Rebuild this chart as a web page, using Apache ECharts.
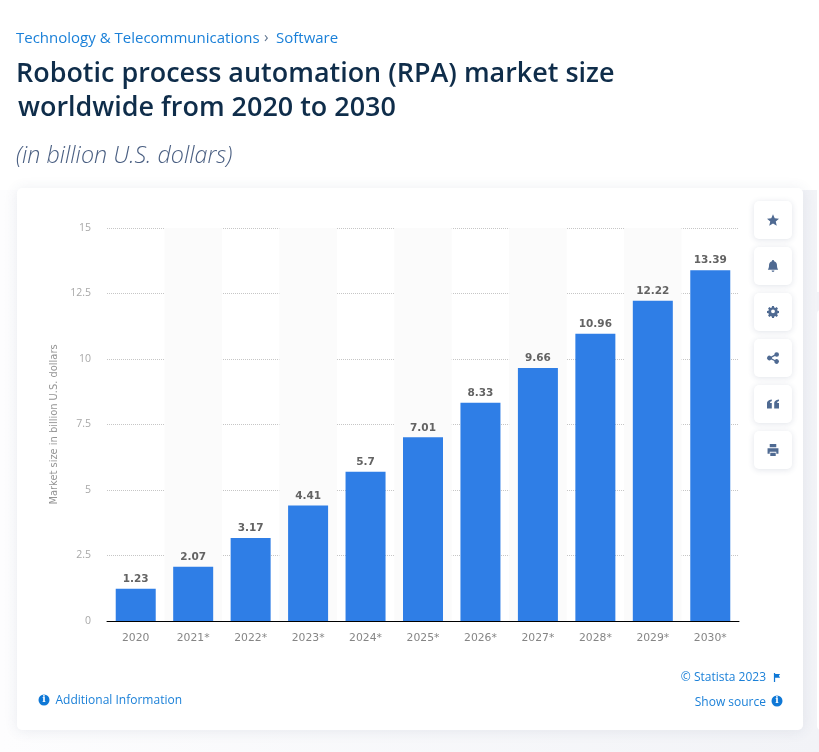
<!DOCTYPE html>
<html>
<head>
<meta charset="utf-8">
<title>RPA market size</title>
<style>
html, body { margin: 0; padding: 0; background: #fff; }
#chart { width: 819px; height: 752px; }
</style>
<script src="https://cdn.jsdelivr.net/npm/echarts@6/dist/echarts.min.js"></script>
</head>
<body>
<div id="chart"></div>
<script>
var categories = ['2020', '2021*', '2022*', '2023*', '2024*', '2025*', '2026*', '2027*', '2028*', '2029*', '2030*'];
var marketSize = [1.23, 2.07, 3.17, 4.41, 5.7, 7.01, 8.33, 9.66, 10.96, 12.22, 13.39];
var yMax = 15;
var yStep = 2.5;
var breadcrumb = 'Technology & Telecommunications';
var breadcrumbLeaf = 'Software';
var titleLines = ['Robotic process automation (RPA) market size', 'worldwide from 2020 to 2030'];
var subtitle = '(in billion U.S. dollars)';
var yAxisName = 'Market size in billion U.S. dollars';

var LINK = '#1b80d8';
var ICON = '#4f6a92';
var SANS = '"Open Sans", "Noto Sans", sans-serif';

// icons drawn on a 24x24 box
var icons = [
    'M12 2l3 7 7.5.6-5.7 4.9 1.8 7.5L12 18l-6.6 4 1.8-7.5L1.5 9.6 9 9z',
    'M12 1.5a2 2 0 0 1 2 2c4 1 5 4 5 8 0 3 1 5 2 7H3c1-2 2-4 2-7 0-4 1-7 5-8a2 2 0 0 1 2-2zM9.5 20h5a2.5 2.5 0 0 1-5 0z',
    'M10 1h4l.6 3 2.2.9 2.6-1.7 2.8 2.8-1.7 2.6.9 2.2 3 .6v4l-3 .6-.9 2.2 1.7 2.6-2.8 2.8-2.6-1.7-2.2.9-.6 3h-4l-.6-3-2.2-.9-2.6 1.7-2.8-2.8 1.7-2.6-.9-2.2-3-.6v-4l3-.6.9-2.2-1.7-2.6 2.8-2.8 2.6 1.7 2.2-.9zM12 8a4 4 0 0 0 0 8 4 4 0 0 0 0-8z',
    'M18 2a4 4 0 1 1-2.9 6.7L10 11.2v1.6l5.1 2.5A4 4 0 1 1 14 18v-.6l-5.6-2.8a4 4 0 1 1 0-5.2L14 6.6V6a4 4 0 0 1 4-4z',
    'M2 12c0-4 2-6 8-7v3c-2 0-3 1-3 3h3v9H2zM14 12c0-4 2-6 8-7v3c-2 0-3 1-3 3h3v9h-8z',
    'M6 1h12v6H6zM2 9h20v10h-4v-4H6v4H2zM7 17h10v6H7z'
];
var flagIcon = 'M2 1h2v1.5h8l-2 3 2 3H4v7H2z';

function text(x, y, str, size, color, extra) {
    var style = { x: x, y: y, text: str, font: size + 'px ' + SANS, fill: color, textVerticalAlign: 'middle' };
    for (var k in extra) { style[k] = extra[k]; }
    return { type: 'text', z: 10, silent: true, style: style };
}

function infoDot(cx, cy) {
    return [
        { type: 'circle', z: 10, silent: true, shape: { cx: cx, cy: cy, r: 5.5 }, style: { fill: '#0f78d6' } },
        text(cx, cy, 'i', 9, '#fff', { textAlign: 'center', font: 'bold 9px "DejaVu Serif", serif' })
    ];
}

var shapes = [
    { type: 'rect', z: -20, silent: true, shape: { x: 0, y: 190, width: 819, height: 562 },
      style: { fill: new echarts.graphic.LinearGradient(0, 0, 1, 0, [
          { offset: 0, color: '#fdfdfe' }, { offset: 1, color: '#f2f3f7' }
      ]) } },
    { type: 'rect', z: -19, silent: true, shape: { x: 817, y: 170, width: 10, height: 122 }, style: { fill: '#fff' } },
    { type: 'rect', z: -19, silent: true, shape: { x: 817, y: 310, width: 10, height: 420, r: 4 }, style: { fill: '#fff' } },
    { type: 'rect', z: -18, silent: true, shape: { x: 17, y: 188, width: 786, height: 542, r: 5 },
      style: { fill: '#fff', shadowBlur: 14, shadowColor: 'rgba(60,80,120,0.10)', shadowOffsetY: 1 } },
    text(16, 38.5, breadcrumb, 15, LINK),
    text(264, 38, '›', 15, '#5f7590'),
    text(276, 38.5, breadcrumbLeaf, 15, LINK),
    text(16, 74, titleLines[0], 27, '#0f2d4a', { font: '600 26.95px ' + SANS }),
    text(18, 108, titleLines[1], 27, '#0f2d4a', { font: '600 26.95px ' + SANS }),
    text(16, 156, subtitle, 23.3, '#4a5f82', { font: 'italic 300 23.3px ' + SANS }),
    text(55.5, 700.5, 'Additional Information', 12, LINK),
    text(766, 677.5, '© Statista 2023', 12, LINK, { textAlign: 'right' }),
    text(766, 702.5, 'Show source', 12, LINK, { textAlign: 'right' })
].concat(infoDot(44, 700), infoDot(777, 701));

icons.forEach(function (d, i) {
    shapes.push({ type: 'rect', z: -10, silent: true, shape: { x: 754, y: 201 + i * 46, width: 38, height: 38, r: 5 },
        style: { fill: '#fff', shadowBlur: 6, shadowColor: 'rgba(60,80,120,0.16)', shadowOffsetY: 1 } });
});

// the graphic component has no path type, a custom series does
function renderIcon(params) {
    var i = params.dataIndex;
    if (i === icons.length) {
        return { type: 'path', silent: true, shape: { pathData: flagIcon, x: 773, y: 673, width: 8, height: 9 }, style: { fill: '#0f78d6' } };
    }
    return { type: 'path', silent: true, shape: { pathData: icons[i], x: 767, y: 214 + i * 46, width: 12, height: 12 }, style: { fill: ICON } };
}

var chart = echarts.init(document.getElementById('chart'), null, { renderer: 'canvas' });
chart.setOption({
    animation: false,
    backgroundColor: '#fff',
    grid: { left: 107, right: 80, top: 228, bottom: 131 },
    xAxis: {
        type: 'category',
        data: categories,
        axisTick: { show: false },
        axisLine: { lineStyle: { color: '#000', width: 1 } },
        axisLabel: { color: '#858585', fontFamily: 'DejaVu Sans', fontSize: 10.8, margin: 12 },
        splitArea: { show: true, areaStyle: { color: ['rgba(0,0,0,0)', '#fbfbfb'] } }
    },
    yAxis: {
        type: 'value',
        min: 0,
        max: yMax,
        interval: yStep,
        name: yAxisName,
        nameLocation: 'middle',
        nameGap: 43,
        nameTextStyle: { color: '#949494', fontFamily: 'DejaVu Sans', fontSize: 9.9 },
        axisLine: { show: false },
        axisTick: { show: false },
        axisLabel: { color: '#a8a8a8', fontFamily: SANS, fontSize: 10.5, margin: 16 },
        splitLine: { lineStyle: { color: '#c6c6c6', type: 'dotted', width: 1 } }
    },
    series: [{
        type: 'bar',
        data: marketSize,
        barWidth: 40,
        itemStyle: { color: '#2f7ee6' },
        label: {
            show: true,
            position: 'top',
            distance: 4,
            color: '#636363',
            fontFamily: 'DejaVu Sans',
            fontWeight: 'bold',
            fontSize: 10.5
        }
    }, {
        type: 'custom',
        coordinateSystem: 'none',
        silent: true,
        z: 10,
        data: icons.concat([flagIcon]).map(function (d, i) { return i; }),
        renderItem: renderIcon
    }],
    graphic: { elements: shapes }
});
</script>
</body>
</html>
